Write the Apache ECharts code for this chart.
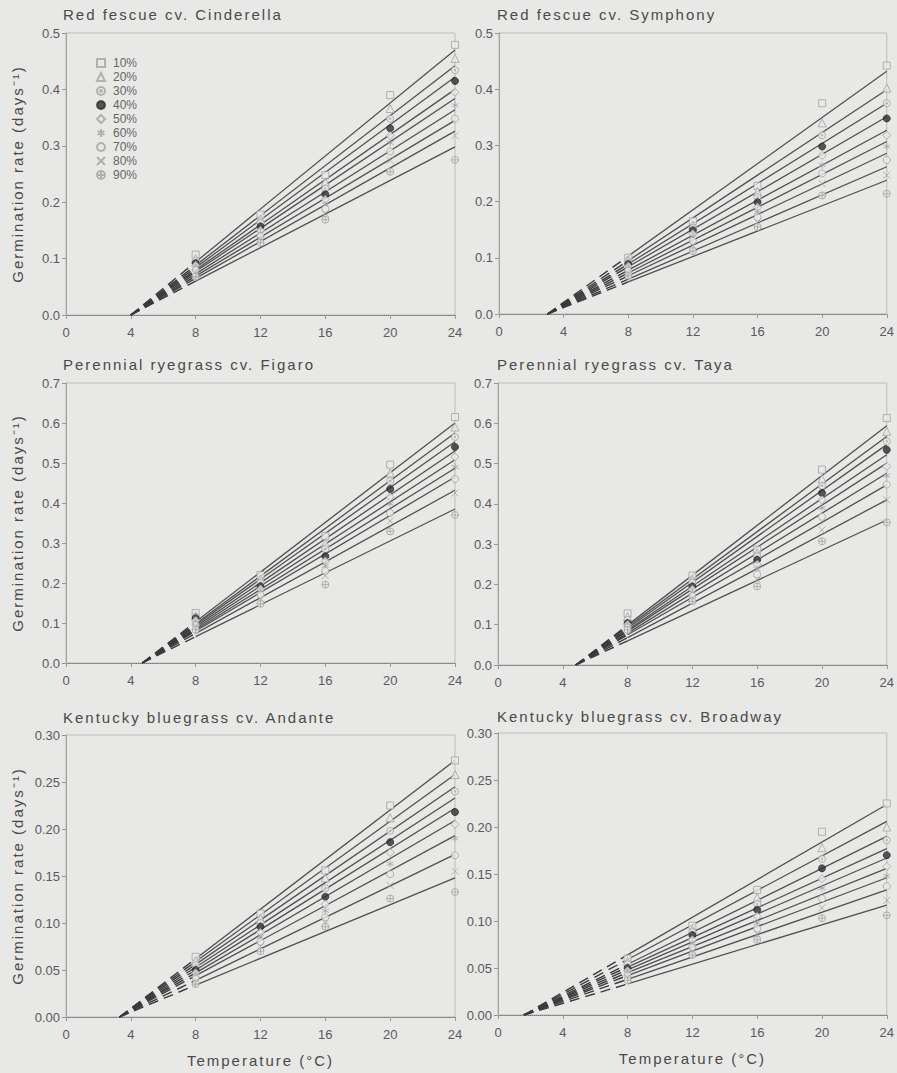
<!DOCTYPE html>
<html>
<head>
<meta charset="UTF-8">
<title>Germination rate vs temperature</title>
<script src="https://cdn.jsdelivr.net/npm/echarts@6/dist/echarts.min.js"></script>
<style>
  html, body { margin: 0; padding: 0; background: #e8e8e7; }
  #chart { width: 897px; height: 1073px; }
  /* titles and axis names are widely tracked in the original */
  #chart text[style*="15px"] { letter-spacing: 2px; }
</style>
</head>
<body>
<div id="chart"></div>
<script>
  // percentiles of germination and the test temperatures
  const pct = ['10%', '20%', '30%', '40%', '50%', '60%', '70%', '80%', '90%']
  const temps = [8, 12, 16, 20, 24]

  const titles = [
    'Red fescue cv. Cinderella', 'Red fescue cv. Symphony',
    'Perennial ryegrass cv. Figaro', 'Perennial ryegrass cv. Taya',
    'Kentucky bluegrass cv. Andante', 'Kentucky bluegrass cv. Broadway'
  ]
  const yMax = [0.5, 0.5, 0.7, 0.7, 0.3, 0.3]
  const yStep = [0.1, 0.1, 0.1, 0.1, 0.05, 0.05]

  // x-intercept of the fitted lines (base temperature)
  const baseTemp = [4.0, 3.0, 4.7, 4.8, 3.3, 1.6]

  // fitted line values at 8 and 24 °C, 10% .. 90%
  const cinderellaFit8 = [0.094, 0.088, 0.084, 0.080, 0.077, 0.073, 0.069, 0.065, 0.060]
  const cinderellaFit24 = [0.470, 0.442, 0.422, 0.400, 0.384, 0.364, 0.345, 0.326, 0.298]
  const symphonyFit8 = [0.103, 0.095, 0.089, 0.084, 0.078, 0.073, 0.068, 0.062, 0.057]
  const symphonyFit24 = [0.432, 0.399, 0.375, 0.351, 0.327, 0.307, 0.286, 0.262, 0.238]
  const figaroFit8 = [0.103, 0.098, 0.095, 0.091, 0.087, 0.083, 0.080, 0.074, 0.066]
  const figaroFit24 = [0.600, 0.575, 0.553, 0.530, 0.508, 0.487, 0.465, 0.432, 0.385]
  const tayaFit8 = [0.099, 0.095, 0.091, 0.087, 0.084, 0.079, 0.075, 0.068, 0.060]
  const tayaFit24 = [0.594, 0.567, 0.547, 0.522, 0.501, 0.476, 0.447, 0.410, 0.360]
  const andanteFit8 = [0.062, 0.059, 0.056, 0.053, 0.050, 0.047, 0.044, 0.039, 0.034]
  const andanteFit24 = [0.273, 0.258, 0.245, 0.233, 0.222, 0.209, 0.193, 0.173, 0.148]
  const broadwayFit8 = [0.064, 0.059, 0.054, 0.051, 0.048, 0.045, 0.042, 0.038, 0.033]
  const broadwayFit24 = [0.224, 0.206, 0.190, 0.177, 0.167, 0.156, 0.146, 0.133, 0.117]

  // observed rates, one row per percentile, columns = temps
  const cinderellaPts = [
    [0.107, 0.178, 0.248, 0.390, 0.479],
    [0.100, 0.170, 0.236, 0.366, 0.455],
    [0.096, 0.163, 0.224, 0.348, 0.434],
    [0.092, 0.157, 0.214, 0.331, 0.415],
    [0.088, 0.150, 0.205, 0.318, 0.395],
    [0.084, 0.145, 0.196, 0.305, 0.372],
    [0.080, 0.140, 0.188, 0.290, 0.348],
    [0.075, 0.134, 0.180, 0.274, 0.318],
    [0.068, 0.128, 0.169, 0.254, 0.275]
  ]
  const symphonyPts = [
    [0.100, 0.165, 0.228, 0.375, 0.442],
    [0.096, 0.158, 0.218, 0.340, 0.402],
    [0.092, 0.153, 0.208, 0.318, 0.375],
    [0.089, 0.149, 0.199, 0.298, 0.348],
    [0.085, 0.143, 0.190, 0.282, 0.318],
    [0.081, 0.137, 0.181, 0.265, 0.298],
    [0.077, 0.130, 0.172, 0.250, 0.274],
    [0.073, 0.122, 0.163, 0.232, 0.247],
    [0.068, 0.112, 0.155, 0.211, 0.214]
  ]
  const figaroPts = [
    [0.125, 0.220, 0.317, 0.496, 0.615],
    [0.118, 0.210, 0.300, 0.475, 0.590],
    [0.115, 0.200, 0.285, 0.455, 0.565],
    [0.112, 0.192, 0.267, 0.435, 0.540],
    [0.106, 0.185, 0.255, 0.415, 0.515],
    [0.100, 0.178, 0.243, 0.398, 0.490],
    [0.095, 0.170, 0.230, 0.375, 0.460],
    [0.090, 0.160, 0.218, 0.355, 0.425],
    [0.083, 0.148, 0.196, 0.329, 0.370]
  ]
  const tayaPts = [
    [0.128, 0.222, 0.286, 0.485, 0.613],
    [0.120, 0.212, 0.278, 0.462, 0.580],
    [0.112, 0.204, 0.270, 0.445, 0.555],
    [0.104, 0.195, 0.261, 0.427, 0.534],
    [0.100, 0.188, 0.250, 0.410, 0.493],
    [0.096, 0.180, 0.238, 0.390, 0.470],
    [0.093, 0.172, 0.225, 0.368, 0.448],
    [0.090, 0.165, 0.212, 0.335, 0.410],
    [0.087, 0.158, 0.195, 0.307, 0.354]
  ]
  const andantePts = [
    [0.064, 0.110, 0.156, 0.225, 0.273],
    [0.060, 0.105, 0.148, 0.212, 0.258],
    [0.055, 0.100, 0.137, 0.198, 0.240],
    [0.050, 0.096, 0.128, 0.186, 0.218],
    [0.047, 0.090, 0.120, 0.175, 0.205],
    [0.044, 0.085, 0.113, 0.163, 0.190],
    [0.041, 0.080, 0.106, 0.152, 0.172],
    [0.038, 0.075, 0.100, 0.140, 0.155],
    [0.035, 0.070, 0.096, 0.126, 0.133]
  ]
  const broadwayPts = [
    [0.060, 0.095, 0.133, 0.195, 0.225],
    [0.057, 0.091, 0.125, 0.178, 0.200],
    [0.054, 0.088, 0.118, 0.166, 0.186],
    [0.050, 0.085, 0.112, 0.156, 0.170],
    [0.047, 0.080, 0.105, 0.145, 0.158],
    [0.045, 0.076, 0.098, 0.135, 0.148],
    [0.042, 0.072, 0.092, 0.124, 0.137],
    [0.040, 0.068, 0.086, 0.114, 0.122],
    [0.037, 0.064, 0.080, 0.103, 0.106]
  ]

  const fit8 = [cinderellaFit8, symphonyFit8, figaroFit8, tayaFit8, andanteFit8, broadwayFit8]
  const fit24 = [cinderellaFit24, symphonyFit24, figaroFit24, tayaFit24, andanteFit24, broadwayFit24]
  const points = [cinderellaPts, symphonyPts, figaroPts, tayaPts, andantePts, broadwayPts]

  const BG = '#e8e8e7'
  const FONT = 'Liberation Sans, Arial, sans-serif'
  const MARK = '#a3a3a3'

  const circleDot = 'path://M0,-5A5,5,0,1,1,0,5A5,5,0,1,1,0,-5ZM0,-1.2A1.2,1.2,0,1,1,0,1.2A1.2,1.2,0,1,1,0,-1.2Z'
  const star = 'path://M0,-5L0,5M-4.3,-2.5L4.3,2.5M-4.3,2.5L4.3,-2.5'
  const cross = 'path://M-4,-4L4,4M-4,4L4,-4'
  const circlePlus = 'path://M0,-5A5,5,0,1,1,0,5A5,5,0,1,1,0,-5ZM-5,0L5,0M0,-5L0,5'
  const symbols = ['rect', 'triangle', circleDot, 'circle', 'diamond', star, 'circle', cross, circlePlus]
  const sizes = [7, 8, 7, 7, 8, 7, 7, 7, 7]

  const grids = [
    { left: 66, top: 33, width: 389, height: 282 },
    { left: 499, top: 33, width: 388, height: 281 },
    { left: 66, top: 383, width: 389, height: 280 },
    { left: 498, top: 383, width: 389, height: 282 },
    { left: 66, top: 735, width: 389, height: 282 },
    { left: 498, top: 733, width: 389, height: 282 }
  ]
  const titlePos = [[63, 7], [497, 7], [63, 357], [497, 357], [63, 710], [497, 709]]

  const xAxes = grids.map((g, i) => ({
    gridIndex: i, type: 'value', min: 0, max: 24, interval: 4,
    name: i >= 4 ? 'Temperature (°C)' : '',
    nameLocation: 'middle', nameGap: 36,
    nameTextStyle: { color: '#4a4a4a', fontSize: 15, fontFamily: FONT },
    axisLine: { onZero: false, lineStyle: { color: '#7a7a7a', type: 'dotted' } },
    axisTick: { length: 4, lineStyle: { color: '#999' } },
    axisLabel: { color: '#5a5a5a', fontSize: 13, fontFamily: FONT, margin: 11 },
    splitLine: { show: false }
  }))

  const yAxes = grids.map((g, i) => ({
    gridIndex: i, type: 'value', min: 0, max: yMax[i], interval: yStep[i],
    name: i % 2 === 0 ? 'Germination rate (days⁻¹)' : '',
    nameLocation: 'middle', nameGap: 41, nameRotate: 90,
    nameTextStyle: { color: '#4a4a4a', fontSize: 15, fontFamily: FONT },
    axisLine: { lineStyle: { color: '#a0a0a0' } },
    axisTick: { length: 4, lineStyle: { color: '#999' } },
    axisLabel: {
      color: '#5a5a5a', fontSize: 13, fontFamily: FONT, margin: 6,
      formatter: v => v.toFixed(yStep[i] < 0.1 ? 2 : 1)
    },
    splitLine: { show: false }
  }))

  const series = []
  points.forEach((rows, i) => {
    pct.forEach((p, j) => {
      // dashed extrapolation down to the base temperature
      series.push({
        type: 'line', xAxisIndex: i, yAxisIndex: i, silent: true,
        symbol: 'none', z: 2,
        lineStyle: { color: '#3a3a3a', width: 1.4, type: [10, 6] },
        data: [[baseTemp[i], 0], [8, fit8[i][j]]]
      })
      series.push({
        type: 'line', xAxisIndex: i, yAxisIndex: i, silent: true,
        symbol: 'none', z: 2,
        lineStyle: { color: '#505050', width: 1.3 },
        data: [[8, fit8[i][j]], [24, fit24[i][j]]]
      })
      const dark = j === 3
      series.push({
        type: 'scatter', name: p, xAxisIndex: i, yAxisIndex: i, z: 3,
        symbol: symbols[j], symbolSize: sizes[j],
        itemStyle: {
          color: dark ? '#2e2e2e' : BG,
          borderColor: dark ? '#2e2e2e' : MARK,
          borderWidth: 1
        },
        data: temps.map((t, k) => [t, rows[j][k]])
      })
    })
  })

  const chart = echarts.init(document.getElementById('chart'), null, { renderer: 'svg' })
  chart.setOption({
    backgroundColor: BG,
    animation: false,
    title: titles.map((t, i) => ({
      text: t, left: titlePos[i][0], top: titlePos[i][1], padding: 0,
      textStyle: { color: '#4a4a4a', fontSize: 15, fontWeight: 'normal', fontFamily: FONT }
    })),
    legend: {
      data: pct, orient: 'vertical', left: 91, top: 52,
      itemWidth: 8, itemHeight: 8, itemGap: 2, selectedMode: false,
      textStyle: { color: '#666', fontSize: 12, fontFamily: FONT, padding: [0, 0, 0, 3] }
    },
    grid: grids.map(g => Object.assign({ show: true, borderColor: '#bdbdbd', borderWidth: 1 }, g)),
    xAxis: xAxes,
    yAxis: yAxes,
    series: series
  })
</script>
</body>
</html>
